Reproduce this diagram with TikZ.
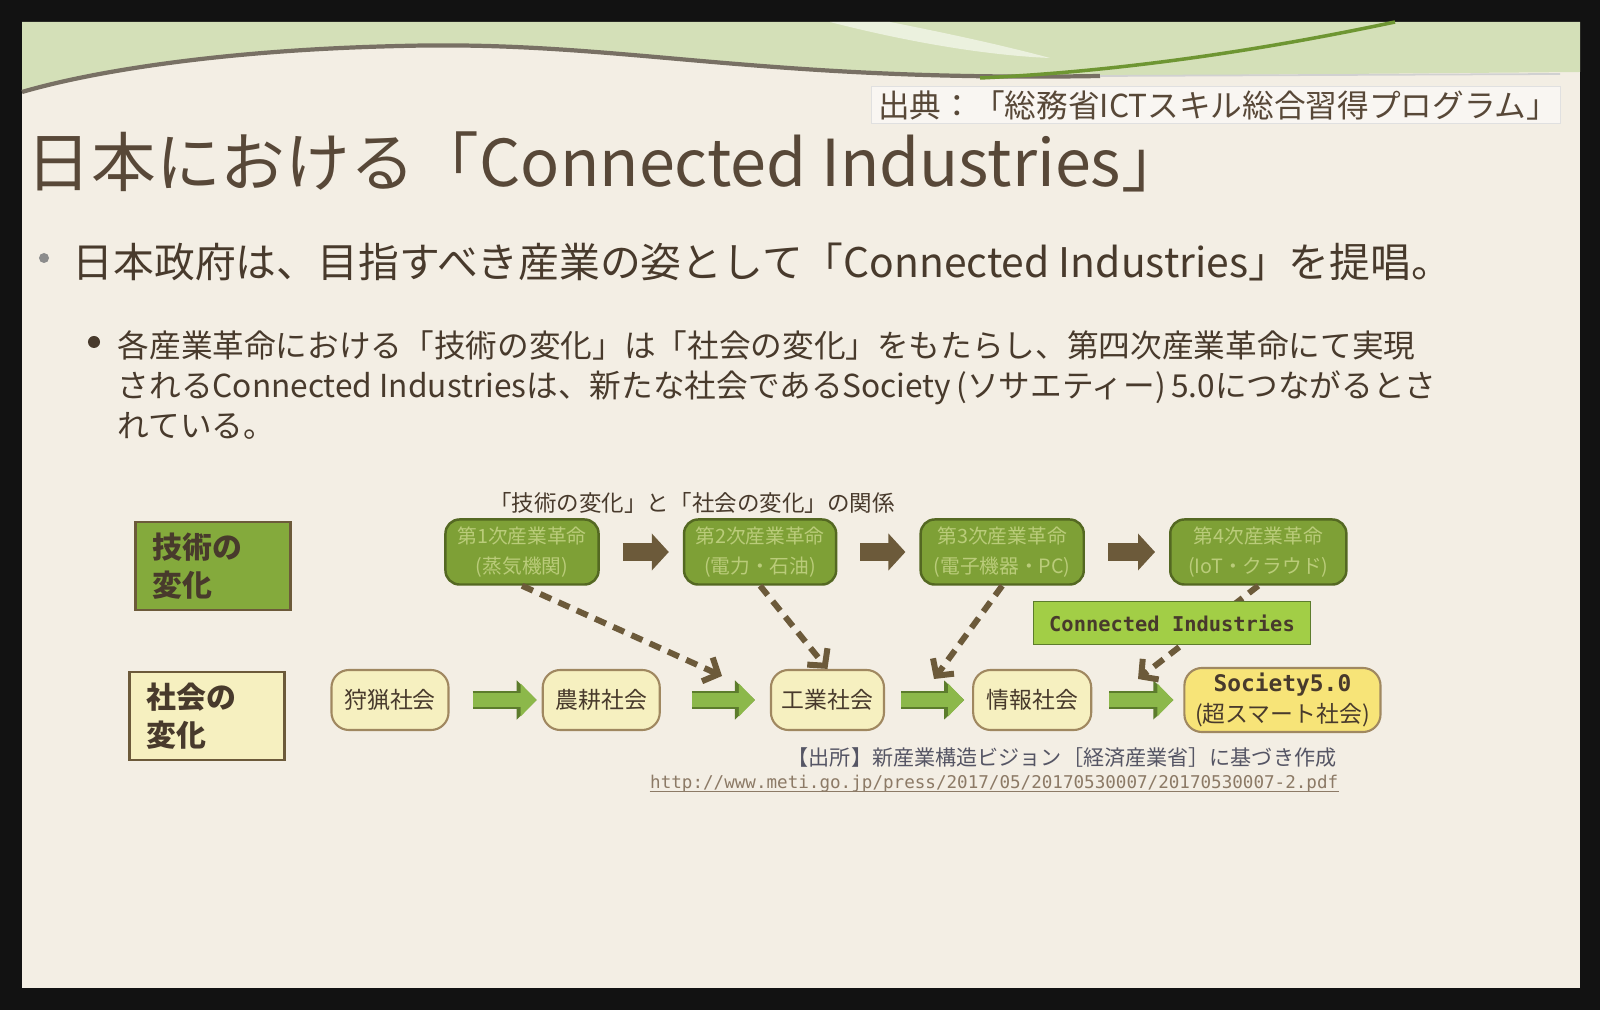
\documentclass[tikz,border=0pt]{standalone}
\usepackage{fontspec}
\setmainfont{Noto Sans CJK JP}
\newfontfamily\monofnt{DejaVu Sans Mono}
\usetikzlibrary{arrows.meta,positioning}
\definecolor{SlideBG}{RGB}{243,238,228}
\definecolor{WaveGreen}{RGB}{212,224,184}
\definecolor{WaveLine}{RGB}{120,112,100}
\definecolor{WaveDark}{RGB}{110,150,50}
\definecolor{TitleText}{RGB}{88,72,56}
\definecolor{BodyText}{RGB}{72,58,44}
\definecolor{RevGreen}{RGB}{126,160,54}
\definecolor{RevEdge}{RGB}{84,104,34}
\definecolor{RevText}{RGB}{186,204,122}
\definecolor{TechGreen}{RGB}{132,170,60}
\definecolor{CIGreen}{RGB}{162,206,70}
\definecolor{SocFill}{RGB}{246,240,192}
\definecolor{SocYellow}{RGB}{247,228,120}
\definecolor{SocEdge}{RGB}{160,136,96}
\definecolor{BrownArr}{RGB}{108,90,58}
\definecolor{ArrGreen}{RGB}{140,184,74}
\definecolor{ArrEdge}{RGB}{92,124,44}
\definecolor{NoteGrey}{RGB}{85,85,100}
\definecolor{UrlGrey}{RGB}{140,122,102}

\begin{document}
\begin{tikzpicture}[x=0.01cm,y=-0.01cm,
        rev/.style={draw=RevEdge,fill=RevGreen,rounded corners=4pt,line width=0.7pt,
                    minimum height=0.65cm,align=center,inner sep=1pt,text=RevText,
                    font=\fontsize{5.6}{8.4}\selectfont},
        soc/.style={draw=SocEdge,fill=SocFill,rounded corners=5pt,line width=0.6pt,
                    minimum width=1.17cm,minimum height=0.6cm,align=center,inner sep=1pt,
                    text=BodyText,font=\fontsize{6.5}{8.6}\selectfont},
        side/.style={draw=BrownArr,line width=0.8pt,minimum width=1.55cm,minimum height=0.88cm,
                     text width=1.2cm,align=left,inner sep=0pt,text=BodyText,
                     font=\bfseries\fontsize{8.5}{10.8}\selectfont},
        ci/.style={draw=ArrEdge,fill=CIGreen,line width=0.5pt,minimum width=2.77cm,
                   minimum height=0.43cm,inner sep=1pt,text=BodyText,
                   font=\monofnt\bfseries\fontsize{5.8}{7}\selectfont},
        dot/.style={circle,fill=#1,inner sep=0pt,minimum size=0.1cm},
        barr/.style={-{Triangle[length=0.17cm,width=0.36cm]},line width=0.18cm,BrownArr,
                     shorten <=0.23cm,shorten >=0.14cm},
        garr/.style={-{Triangle[length=0.16cm,width=0.32cm]},line width=0.14cm,ArrGreen,
                     preaction={draw=ArrEdge,line width=0.18cm,
                                -{Triangle[length=0.2cm,width=0.38cm]}}},
        darr/.style={-{Straight Barb[length=0.12cm,width=0.26cm]},line width=0.06cm,BrownArr,
                     dash pattern=on 0.12cm off 0.08cm}
      ]
        % frame and slide
        \fill[black!93] (0,0) rectangle (1600,1010);
        \fill[SlideBG] (22,22) rectangle (1580,988);
        \fill[WaveGreen] (22,22) -- (1580,22) -- (1580,72) -- (1100,76)
              .. controls (750,82) and (620,40) .. (400,46)
              .. controls (220,50) and (90,72) .. (22,92) -- cycle;
        \fill[white,opacity=0.55] (830,22) .. controls (900,40) and (980,55) .. (1050,58)
              .. controls (990,42) and (930,30) .. (890,22) -- cycle;
        \draw[WaveLine,line width=1.2pt] (22,92) .. controls (90,72) and (220,50) .. (400,46)
              .. controls (620,40) and (750,82) .. (1100,76);
        \draw[WaveDark,line width=1pt] (980,78) .. controls (1150,70) and (1300,42) .. (1395,22);
        \draw[black!18,line width=0.5pt] (1100,76) -- (1560,74);

        % header
        \node[draw=black!12,fill=SlideBG!50!white,minimum width=6.89cm,minimum height=0.37cm,
              text width=6.75cm,align=left,inner sep=1pt,text=TitleText,
              font=\fontsize{9}{9.5}\selectfont] (src) at (1216,105)
              {出典：「総務省ICTスキル総合習得プログラム」};
        \node[anchor=west,inner sep=0pt,text=TitleText,font=\fontsize{18.4}{20}\selectfont]
              (title) at (26,162) {日本における「Connected Industries」};
        \node[dot=black!45] (d1) at (44,258) {};
        \node[anchor=west,inner sep=0pt,text=BodyText,font=\fontsize{11.6}{13}\selectfont]
              (pt1) at (72,262) {日本政府は、目指すべき産業の姿として「Connected Industries」を提唱。};
        \node[dot=BodyText,minimum size=0.12cm] (d2) at (94,342) {};
        \node[anchor=north west,inner sep=0pt,align=left,text=BodyText,
              font=\fontsize{9}{11.4}\selectfont] (pt2) at (117,330)
              {各産業革命における「技術の変化」は「社会の変化」をもたらし、第四次産業革命にて実現\\
               されるConnected Industriesは、新たな社会であるSociety\,(ソサエティー)\,5.0につながるとさ\\
               れている。};

        % diagram
        \node[text=BodyText,font=\fontsize{6.4}{8}\selectfont] (dtitle) at (692,503)
              {「技術の変化」と「社会の変化」の関係};
        \node[side,fill=TechGreen] (tech) at (213,566) {技術の\\変化};
        \node[side,fill=SocFill] (soci) at (207,716) {社会の\\変化};

        \node[rev,minimum width=1.53cm] (B1) at (522,552) {第1次産業革命\\(蒸気機関)};
        \node[rev,minimum width=1.52cm,right=0.83cm of B1] (B2) {第2次産業革命\\(電力・石油)};
        \node[rev,minimum width=1.63cm,right=0.82cm of B2] (B3) {第3次産業革命\\(電子機器・PC)};
        \node[rev,minimum width=1.76cm,right=0.84cm of B3] (B4) {第4次産業革命\\(IoT・クラウド)};

        \node[soc] (S1) at (390,700) {狩猟社会};
        \node[soc,right=0.92cm of S1] (S2) {農耕社会};
        \node[soc,minimum width=1.13cm,right=1.09cm of S2] (S3) {工業社会};
        \node[soc,minimum width=1.18cm,right=0.87cm of S3] (S4) {情報社会};
        \node[soc,fill=SocYellow,minimum width=1.96cm,minimum height=0.64cm,right=0.91cm of S4]
              (S5) {{\monofnt\bfseries Society5.0}\\(超スマート社会)};

        \coordinate (p23) at (722,676);
        \coordinate (p34) at (934,679);
        \coordinate (p45) at (1138,679);

        \draw[barr] (B1) -- (B2); \draw[barr] (B2) -- (B3);
        \draw[barr] (B3) -- (B4);
        \draw[garr,shorten <=0.23cm,shorten >=0.05cm] (S1) -- (S2);
        \draw[garr,shorten <=0.31cm,shorten >=0.15cm] (S2) -- (S3);
        \draw[garr,shorten <=0.16cm,shorten >=0.08cm] (S3) -- (S4);
        \draw[garr,shorten <=0.17cm,shorten >=0.10cm] (S4) -- (S5);

        \draw[darr] (B1.south) -- (p23);
        \draw[darr] (B2.south) -- (S3.north);
        \draw[darr] (B3.south) -- (p34);
        \draw[darr] (B4.south) -- (p45);
        \node[ci] (CI) at (1172,623) {Connected Industries};

        \node[anchor=east,inner sep=0pt,text=NoteGrey,font=\fontsize{6}{7}\selectfont]
              (note) at (1337,758) {【出所】新産業構造ビジョン［経済産業省］に基づき作成};
        \node[anchor=east,inner sep=0pt,text=UrlGrey,font=\monofnt\fontsize{5}{6}\selectfont]
              (url) at (1339,784) {http://www.meti.go.jp/press/2017/05/20170530007/20170530007-2.pdf};
        \draw[UrlGrey,line width=0.4pt] ([yshift=-0.03cm]url.base west) -- ([yshift=-0.03cm]url.base east);
      \end{tikzpicture}
\end{document}
